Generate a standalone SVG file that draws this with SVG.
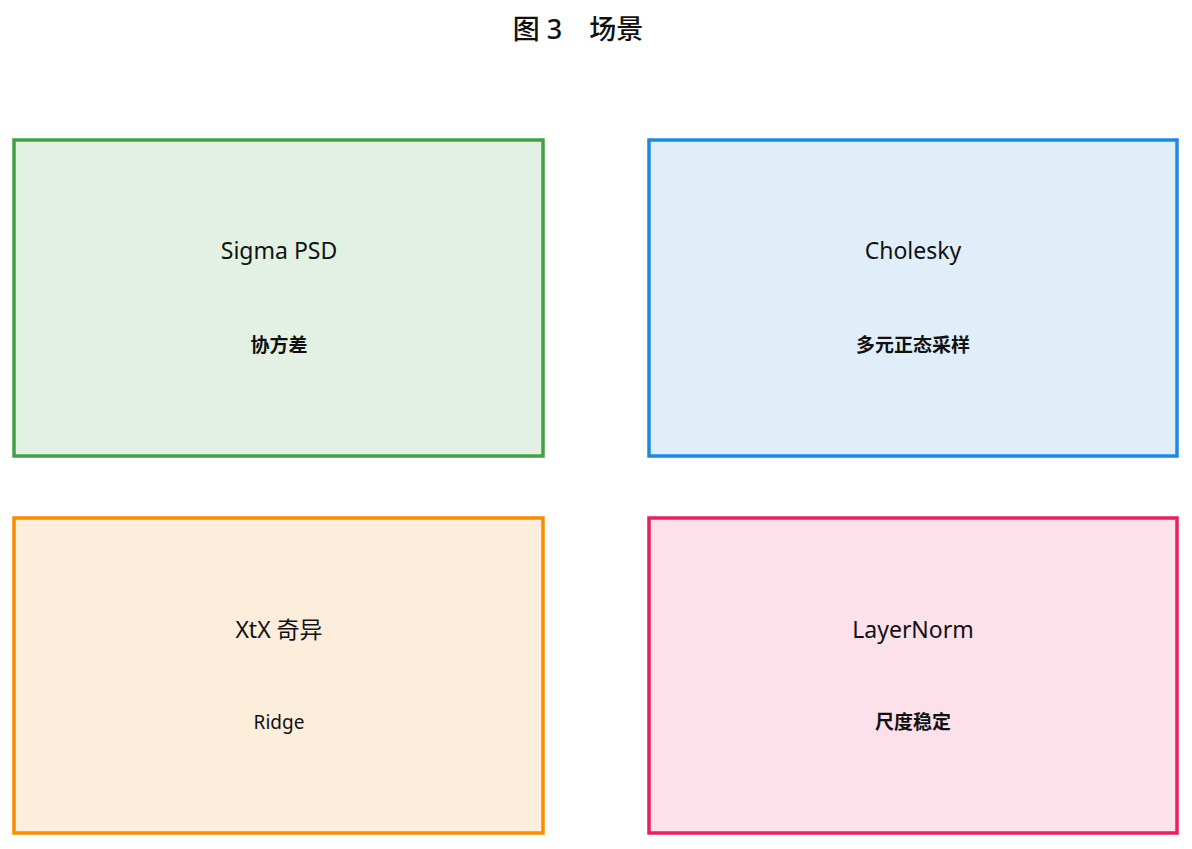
<svg xmlns="http://www.w3.org/2000/svg" width="1192" height="849" viewBox="0 0 1192 849">
<style>
text{font-family:"Noto Sans","Noto Sans CJK SC",sans-serif;fill:#111;text-anchor:middle;dominant-baseline:central}
.t{font-size:23px}.s{font-size:19px}.b{font-weight:600}
rect{stroke-width:3.5}
</style>
<rect width="1192" height="849" fill="#fff"/>
<text x="578" y="28" font-size="27" font-weight="500">图 3　场景</text>
<g id="n1"><rect x="14" y="140" width="529" height="316" fill="#e3f1e4" stroke="#43a047"/><text class="t" x="279" y="250">Sigma PSD</text><text class="s b" x="279" y="345">协方差</text></g>
<g id="n2"><rect x="649" y="140" width="528" height="316" fill="#e0eef9" stroke="#1e88e5"/><text class="t" x="913" y="250">Cholesky</text><text class="s b" x="913" y="345">多元正态采样</text></g>
<g id="n3"><rect x="14" y="518" width="529" height="315" fill="#fdeedc" stroke="#fb8c00"/><text class="t" x="279" y="629">XtX 奇异</text><text class="s" x="279" y="722">Ridge</text></g>
<g id="n4"><rect x="649" y="518" width="528" height="315" fill="#fce0ea" stroke="#e91e63"/><text class="t" x="913" y="629">LayerNorm</text><text class="s b" x="913" y="722">尺度稳定</text></g>
<g id="connectors"/>
</svg>
